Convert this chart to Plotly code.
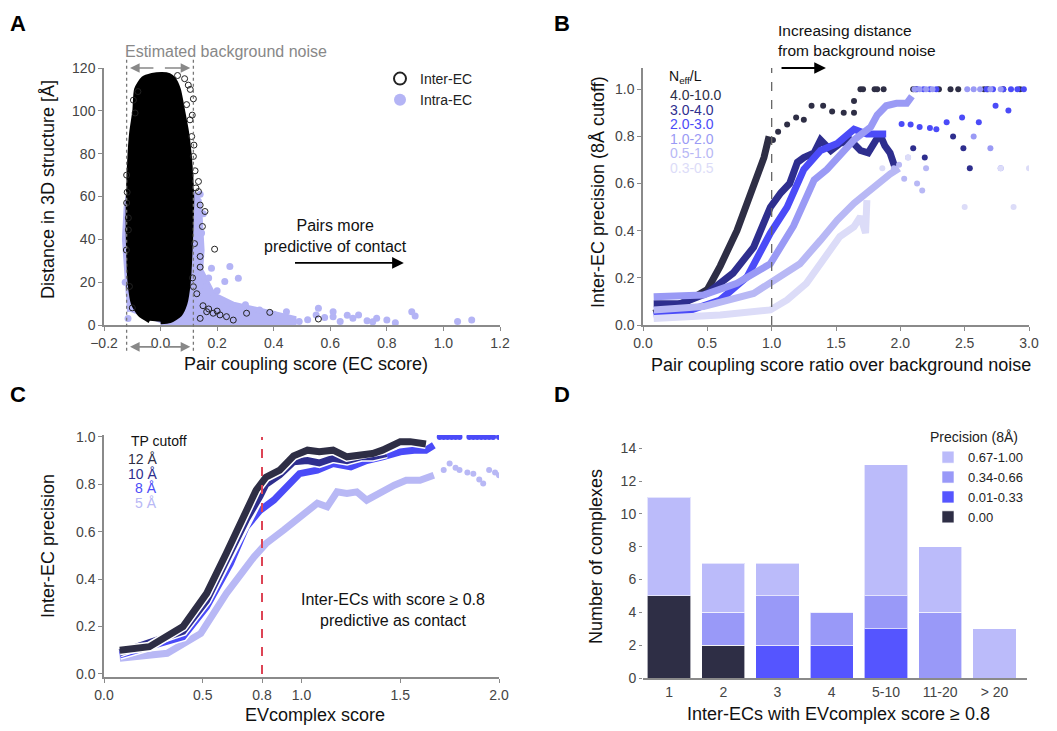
import plotly.graph_objects as go

FONT = "Liberation Sans, Arial, Helvetica, sans-serif"
PAGE_W, PAGE_H = 1057, 731
OFF = 8  # page body margin
W, H = PAGE_W - OFF, PAGE_H - OFF

# ---------------- Panel A data ----------------
# Envelope of the dense Inter-EC cloud (x, y)
blob_x = [-0.038, -0.073, -0.096, -0.108, -0.114, -0.114, -0.108, -0.102, -0.091, -0.085, -0.061, -0.030, 0.005,
          0.030, 0.045, 0.063, 0.078, 0.092, 0.101, 0.110, 0.106, 0.098, 0.086, 0.068, 0.033, 0.0]
blob_y = [2.0, 5.0, 10.0, 20.0, 40.0, 60.0, 80.0, 90.0, 100.0, 110.0, 115.0, 116.5, 117.0,
          116.5, 115.0, 110.0, 100.0, 90.0, 80.0, 60.0, 40.0, 20.0, 10.0, 5.0, 2.0, 1.5]
# Envelope of the Intra-EC cloud
intra_env_x = [-0.108, -0.12, -0.126, -0.12, -0.11, 0.0, 0.11, 0.135, 0.14, 0.145, 0.14, 0.186, 0.257, 0.375, 0.47, 0.47, 0.0]
intra_env_y = [6.2, 25.7, 40.0, 55.0, 62.0, 64.0, 62.0, 58.0, 45.0, 35.0, 25.7, 14.0, 9.5, 6.0, 3.0, 1.0, 0.8]
# Individual Inter-EC points outside the core
inter_x = [0.116, 0.092, 0.104, 0.110, 0.116, 0.134, 0.134, 0.140, 0.157, 0.148, 0.191, 0.140, 0.140, 0.116,
           0.163, 0.210, 0.257, 0.304, 0.386, 0.558, -0.120, -0.114, -0.114, -0.120, -0.096, 0.128, 0.186,
           0.140, 0.233, 0.118, 0.122, 0.125, 0.120, 0.113, -0.118, -0.121, -0.110, -0.100, 0.150, 0.170,
           0.200, 0.105, 0.112, 0.098, 0.085, 0.060, -0.080, -0.090]
inter_y = [105.6, 102.9, 95.8, 88.0, 78.7, 67.0, 62.3, 56.0, 53.0, 46.0, 35.4, 32.0, 27.0, 17.9,
           6.2, 4.7, 2.3, 5.5, 5.9, 2.8, 57.0, 50.0, 44.4, 70.0, 105.0, 14.6, 5.5,
           3.1, 3.9, 84.0, 72.0, 64.0, 38.0, 22.0, 62.0, 35.0, 18.0, 8.0, 9.0, 7.5,
           6.5, 110.0, 98.0, 112.0, 115.0, 116.5, 109.0, 99.0]
# Individual Intra-EC points in the tail
intra_x = [0.245, 0.180, 0.275, 0.227, 0.350, 0.445, 0.558, 0.610, 0.680, 0.764, 0.800, 0.830, 0.888, 0.900,
           1.050, 1.100, 0.490, 0.550, 0.635, 0.730, 0.610, 0.700, 0.140, 0.145, 0.128, 0.151, 0.520, 0.580,
           0.660, 0.750, 0.300, 0.400, 0.200, 0.170, 0.160, -0.125, -0.115]
intra_y = [27.3, 26.5, 21.8, 20.3, 7.0, 6.2, 7.8, 3.9, 3.1, 3.1, 2.3, 1.1, 6.2, 4.2,
           1.6, 2.3, 1.6, 4.7, 1.6, 2.0, 6.2, 4.7, 61.0, 43.0, 35.0, 52.0, 2.5, 3.5,
           4.5, 1.5, 9.5, 5.0, 16.0, 22.0, 18.0, 20.0, 3.0]

# ---------------- Panel B data ----------------
neff_labels = ["4.0-10.0", "3.0-4.0", "2.0-3.0", "1.0-2.0", "0.5-1.0", "0.3-0.5"]
neff_colors = ["#2e2e45", "#2e2e8e", "#4b4bf8", "#9a9af5", "#b8b8f5", "#dcdcf8"]
b_curve_x = [
    [0.083, 0.34, 0.50, 0.60, 0.73, 0.86, 0.94, 0.98],
    [0.083, 0.29, 0.50, 0.70, 0.86, 0.99, 1.07, 1.14, 1.20, 1.25, 1.33, 1.38, 1.46, 1.53, 1.61, 1.69, 1.75, 1.79, 1.84, 1.88, 1.92, 1.96],
    [0.083, 0.34, 0.60, 0.81, 0.99, 1.12, 1.25, 1.38, 1.51, 1.64, 1.74, 1.84, 1.89],
    [0.083, 0.47, 0.73, 0.99, 1.17, 1.33, 1.43, 1.53, 1.64, 1.77, 1.82, 1.89, 1.97, 2.05, 2.09],
    [0.083, 0.47, 0.86, 1.07, 1.22, 1.38, 1.51, 1.64, 1.74, 1.84, 1.92, 1.99],
    [0.083, 0.60, 0.99, 1.12, 1.27, 1.43, 1.53, 1.64, 1.69, 1.73, 1.74],
]
b_curve_y = [
    [0.05, 0.10, 0.15, 0.25, 0.40, 0.59, 0.71, 0.80],
    [0.09, 0.09, 0.135, 0.22, 0.33, 0.50, 0.56, 0.60, 0.69, 0.71, 0.73, 0.785, 0.74, 0.77, 0.785, 0.74, 0.73, 0.77, 0.81, 0.76, 0.73, 0.665],
    [0.04, 0.057, 0.106, 0.205, 0.39, 0.50, 0.66, 0.74, 0.77, 0.83, 0.81, 0.81, 0.81],
    [0.12, 0.127, 0.177, 0.26, 0.42, 0.615, 0.66, 0.715, 0.785, 0.84, 0.89, 0.93, 0.94, 0.94, 0.97],
    [0.064, 0.078, 0.134, 0.205, 0.26, 0.36, 0.445, 0.516, 0.56, 0.61, 0.64, 0.665],
    [0.028, 0.042, 0.064, 0.106, 0.177, 0.30, 0.375, 0.417, 0.46, 0.39, 0.53],
]
b_dots_x = [
    [1.01, 1.05, 1.12, 1.19, 1.25, 1.31, 1.40, 1.47, 1.56, 1.64, 1.64, 1.69, 1.71, 1.80, 1.82, 1.87, 2.10, 2.12, 2.30, 2.39, 2.45, 2.65, 2.68, 2.80, 2.93],
    [2.10, 2.19, 2.41, 2.49, 2.54],
    [2.01, 2.08, 2.15, 2.23, 2.28, 2.36, 2.48, 2.61, 2.74, 2.84, 2.13, 2.18, 2.23, 2.28, 2.67, 2.72, 2.80, 2.86, 2.91, 2.96],
    [2.11, 2.15, 2.20, 2.25, 2.52, 2.57, 2.62, 2.70, 2.78, 2.57, 2.70, 2.78],
    [2.06, 2.13, 2.17, 2.20, 1.95, 1.99, 2.03],
    [1.86, 2.06, 2.50, 2.78, 2.88, 3.00],
]
b_dots_y = [
    [0.785, 0.82, 0.85, 0.88, 0.87, 0.93, 0.93, 0.905, 0.90, 0.90, 0.95, 1.0, 1.0, 1.0, 1.0, 1.0, 1.0, 1.0, 1.0, 1.0, 1.0, 1.0, 1.0, 1.0, 1.0],
    [0.75, 0.71, 0.80, 0.75, 0.665],
    [0.853, 0.85, 0.84, 0.835, 0.83, 0.86, 0.88, 0.86, 0.93, 0.91, 1.0, 1.0, 1.0, 1.0, 1.0, 1.0, 1.0, 1.0, 1.0, 1.0],
    [1.0, 1.0, 1.0, 1.0, 1.0, 1.0, 1.0, 1.0, 1.0, 0.80, 0.75, 0.665],
    [0.71, 0.60, 0.57, 0.665, 0.665, 0.68, 0.62],
    [0.665, 0.71, 0.50, 0.665, 0.50, 0.665],
]

# ---------------- Panel C data ----------------
tp_labels = ["12 Å", "10 Å", "8 Å", "5 Å"]
tp_colors = ["#2e2e45", "#2e2e8e", "#4b4bf8", "#b8b8f5"]
c_x = [
    [0.08, 0.23, 0.40, 0.52, 0.62, 0.71, 0.77, 0.82, 0.89, 0.96, 1.03, 1.09, 1.16, 1.23, 1.30, 1.36, 1.41, 1.47, 1.50, 1.55, 1.63],
    [0.08, 0.40, 0.52, 0.62, 0.72, 0.79, 0.82, 0.89, 0.96, 1.03, 1.09, 1.16, 1.23, 1.30, 1.36, 1.43],
    [0.08, 0.40, 0.52, 0.64, 0.72, 0.79, 0.86, 0.93, 0.99, 1.08, 1.16, 1.25, 1.33, 1.41, 1.50, 1.57, 1.63, 1.67],
    [0.08, 0.32, 0.49, 0.62, 0.76, 0.82, 0.91, 0.99, 1.08, 1.13, 1.18, 1.23, 1.28, 1.33, 1.40, 1.47, 1.53, 1.60, 1.67],
]
c_y = [
    [0.10, 0.115, 0.20, 0.34, 0.51, 0.66, 0.775, 0.83, 0.86, 0.92, 0.944, 0.937, 0.944, 0.916, 0.923, 0.93, 0.944, 0.965, 0.98, 0.98, 0.97],
    [0.09, 0.18, 0.31, 0.48, 0.65, 0.75, 0.80, 0.84, 0.895, 0.90, 0.89, 0.91, 0.90, 0.916, 0.916, 0.93],
    [0.08, 0.157, 0.284, 0.466, 0.62, 0.69, 0.733, 0.79, 0.845, 0.86, 0.888, 0.874, 0.90, 0.916, 0.937, 0.944, 0.944, 0.965],
    [0.066, 0.087, 0.171, 0.34, 0.494, 0.55, 0.607, 0.663, 0.72, 0.705, 0.768, 0.761, 0.768, 0.733, 0.768, 0.796, 0.817, 0.817, 0.838],
]
c_dots_x = [
    [],
    [],
    [1.70, 1.72, 1.74, 1.76, 1.78, 1.80, 1.85, 1.87, 1.89, 1.91, 1.93, 1.95, 1.97, 2.00],
    [1.72, 1.75, 1.78, 1.80, 1.84, 1.87, 1.90, 1.92, 1.95, 1.98, 2.00],
]
c_dots_y = [
    [],
    [],
    [1.0, 1.0, 1.0, 1.0, 1.0, 1.0, 1.0, 1.0, 1.0, 1.0, 1.0, 1.0, 1.0, 1.0],
    [0.86, 0.888, 0.87, 0.86, 0.85, 0.845, 0.82, 0.803, 0.86, 0.85, 0.838],
]
c_threshold = 0.8

# ---------------- Panel D data ----------------
d_categories = ["1", "2", "3", "4", "5-10", "11-20", "> 20"]
prec_labels = ["0.00", "0.01-0.33", "0.34-0.66", "0.67-1.00"]
prec_colors = ["#2e2e45", "#5555ff", "#9999f8", "#bbbbfa"]
d_counts = [
    [5, 2, 0, 0, 0, 0, 0],
    [0, 0, 2, 2, 3, 0, 0],
    [0, 2, 3, 2, 2, 4, 0],
    [6, 3, 2, 0, 8, 4, 3],
]

# ---------------- Figure ----------------
# convert page pixel positions to paper fractions (figure is offset by the body margin)
def px2x(p):
    return (p - OFF) / W

def px2y(p):
    return 1 - (p - OFF) / H

fig = go.Figure()

# Panel A traces
fig.add_trace(go.Scatter(x=intra_env_x, y=intra_env_y, fill="toself", mode="lines",
                         line=dict(color="#b4b4f5", width=6), fillcolor="#b4b4f5",
                         showlegend=False, hoverinfo="skip", xaxis="x", yaxis="y"))
fig.add_trace(go.Scatter(x=intra_x, y=intra_y, mode="markers", name="Intra-EC",
                         marker=dict(color="#b4b4f5", size=7), xaxis="x", yaxis="y", cliponaxis=False))
fig.add_trace(go.Scatter(x=blob_x, y=blob_y, fill="toself", mode="lines",
                         line=dict(color="black", width=5, shape="spline", smoothing=0.6), fillcolor="black",
                         showlegend=False, hoverinfo="skip", xaxis="x", yaxis="y"))
fig.add_trace(go.Scatter(x=inter_x, y=inter_y, mode="markers", name="Inter-EC",
                         marker=dict(color="rgba(0,0,0,0)", size=6, line=dict(color="#222", width=1)),
                         xaxis="x", yaxis="y", cliponaxis=False))

# Panel B traces
for i in range(len(neff_labels)):
    fig.add_trace(go.Scatter(x=b_curve_x[i], y=b_curve_y[i], mode="lines",
                             line=dict(color=neff_colors[i], width=7), showlegend=False,
                             xaxis="x2", yaxis="y2"))
    fig.add_trace(go.Scatter(x=b_dots_x[i], y=b_dots_y[i], mode="markers",
                             marker=dict(color=neff_colors[i], size=6), showlegend=False,
                             xaxis="x2", yaxis="y2"))

# Panel C traces (lightest drawn first)
for i in reversed(range(len(tp_labels))):
    fig.add_trace(go.Scatter(x=c_x[i], y=c_y[i], mode="lines",
                             line=dict(color="white", width=10), showlegend=False, hoverinfo="skip",
                             xaxis="x3", yaxis="y3"))
    fig.add_trace(go.Scatter(x=c_x[i], y=c_y[i], mode="lines",
                             line=dict(color=tp_colors[i], width=7), showlegend=False,
                             xaxis="x3", yaxis="y3"))
    if c_dots_x[i]:
        fig.add_trace(go.Scatter(x=c_dots_x[i], y=c_dots_y[i], mode="markers",
                                 marker=dict(color=tp_colors[i], size=6), showlegend=False,
                                 xaxis="x3", yaxis="y3"))
fig.add_trace(go.Scatter(x=[c_threshold, c_threshold], y=[0, 1.0], mode="lines",
                         line=dict(color="#dd4455", width=2, dash="dash"), showlegend=False,
                         xaxis="x3", yaxis="y3"))

# Panel D traces
for i in range(len(prec_labels)):
    fig.add_trace(go.Bar(x=d_categories, y=d_counts[i], name=prec_labels[i],
                         marker=dict(color=prec_colors[i], line=dict(color="rgba(255,255,255,0.6)", width=1)),
                         width=0.8, xaxis="x4", yaxis="y4", legend="legend2"))

axis_common = dict(showline=True, linecolor="#8a8a8a", linewidth=1.5, ticks="outside", ticklen=4,
                   tickcolor="#8a8a8a", showgrid=False, zeroline=False, automargin=False,
                   tickfont=dict(family=FONT, size=14, color="#444"))

fig.update_layout(
    template="none",
    width=W, height=H, margin=dict(l=0, r=0, t=0, b=0),
    paper_bgcolor="white", plot_bgcolor="white", barmode="stack",
    font=dict(family=FONT, color="#111"),
    xaxis=dict(axis_common, domain=[px2x(104), px2x(500)], range=[-0.2, 1.2], dtick=0.2, tickformat=".1f"),
    yaxis=dict(axis_common, domain=[px2y(325), px2y(68)], range=[0, 120], dtick=20),
    xaxis2=dict(axis_common, anchor="y2", domain=[px2x(643), px2x(1029)], range=[0, 3.0], dtick=0.5,
                tickformat=".1f"),
    yaxis2=dict(axis_common, anchor="x2", domain=[px2y(325), px2y(68)], range=[0, 1.09],
                tickvals=[0, 0.2, 0.4, 0.6, 0.8, 1.0], tickformat=".1f"),
    xaxis3=dict(axis_common, anchor="y3", domain=[px2x(104), px2x(499)], range=[0, 2.0],
                tickvals=[0, 0.5, 0.8, 1.0, 1.5, 2.0], tickformat=".1f"),
    yaxis3=dict(axis_common, anchor="x3", domain=[px2y(677), px2y(435)], range=[-0.013, 1.008],
                tickvals=[0, 0.2, 0.4, 0.6, 0.8, 1.0], tickformat=".1f"),
    xaxis4=dict(axis_common, anchor="y4", type="category", domain=[px2x(643), px2x(1027)],
                range=[-0.48, 6.6], ticks=""),
    yaxis4=dict(axis_common, anchor="x4", domain=[px2y(678), px2y(440)], range=[0, 14.5], dtick=2,
                showline=False, ticklen=3),
    legend=dict(x=px2x(380), y=px2y(63), xanchor="left", yanchor="top", bgcolor="rgba(0,0,0,0)",
                font=dict(family=FONT, size=14, color="#222"), traceorder="reversed",
                itemsizing="constant", tracegroupgap=0, itemwidth=30),
    legend2=dict(x=px2x(928), y=px2y(424), xanchor="left", yanchor="top", bgcolor="rgba(0,0,0,0)",
                 font=dict(family=FONT, size=13, color="#222"), traceorder="reversed",
                 title=dict(text="Precision (8Å)", font=dict(family=FONT, size=14, color="#222")),
                 itemwidth=30, tracegroupgap=0),
)

shapes = []
# Panel A: dotted vertical lines marking background noise
for xv in [-0.12, 0.116]:
    shapes.append(dict(type="line", xref="x", yref="y domain", x0=xv, x1=xv, y0=-0.1, y1=1.04,
                       line=dict(color="#777", width=1.3, dash="dot")))
# Panel B: dashed line at ratio 1.0
shapes.append(dict(type="line", xref="x2", yref="y2", x0=1.0, x1=1.0, y0=0, y1=1.09,
                   line=dict(color="#666", width=1.3, dash="dash")))
fig.update_layout(shapes=shapes)

ann = []
# Panel letters
for txt, xp, yp in [("A", 18, 9), ("B", 562, 9), ("C", 18, 380), ("D", 562, 380)]:
    ann.append(dict(text=f"<b>{txt}</b>", x=px2x(xp), y=px2y(yp), xref="paper", yref="paper",
                    xanchor="center", yanchor="top", showarrow=False, font=dict(family=FONT, size=22, color="black")))
# Axis titles
TITLE_FONT = dict(family=FONT, size=18, color="#111")
for txt, xp, yp, ang in [
    ("Pair coupling score (EC score)", 306, 364, 0),
    ("Distance in 3D structure [Å]", 48, 190, -90),
    ("Pair coupling score ratio over background noise", 841, 365, 0),
    ("Inter-EC precision (8Å cutoff)", 598, 192, -90),
    ("EVcomplex score", 315, 715, 0),
    ("Inter-EC precision", 48, 546, -90),
    ("Inter-ECs with EVcomplex score ≥ 0.8", 838, 714, 0),
    ("Number of complexes", 596, 557, -90),
]:
    ann.append(dict(text=txt, x=px2x(xp), y=px2y(yp), xref="paper", yref="paper", xanchor="center",
                    yanchor="middle", textangle=ang, showarrow=False, font=TITLE_FONT))
# Panel A annotations
ann.append(dict(text="Estimated background noise", x=px2x(226), y=px2y(51), xref="paper", yref="paper",
                xanchor="center", yanchor="middle", showarrow=False, font=dict(family=FONT, size=16, color="#888")))
for ydom in [1.0, -0.085]:
    for (xs, xe) in [(-0.02, -0.108), (0.01, 0.105)]:
        ann.append(dict(x=xe, y=ydom, ax=xs, ay=ydom, xref="x", yref="y domain", axref="x", ayref="y domain",
                        text="", showarrow=True, arrowhead=2, arrowsize=1.2, arrowwidth=1.6, arrowcolor="#888"))
ann.append(dict(text="Pairs more<br>predictive of contact", x=px2x(335), y=px2y(236), xref="paper", yref="paper",
                xanchor="center", yanchor="middle",
                showarrow=False, font=dict(family=FONT, size=16, color="#111"), align="center"))
ann.append(dict(x=0.86, y=29, ax=0.47, ay=29, xref="x", yref="y", axref="x", ayref="y", text="",
                showarrow=True, arrowhead=2, arrowsize=1.3, arrowwidth=1.8, arrowcolor="black"))
# Panel B annotations
ann.append(dict(text="Increasing distance<br>from background noise", x=px2x(776), y=px2y(41), xref="paper",
                yref="paper", xanchor="left", yanchor="middle", align="left", showarrow=False,
                font=dict(family=FONT, size=15.5, color="#111")))
ann.append(dict(x=0.474, y=1.0, ax=0.355, ay=1.0, xref="x2 domain", yref="y2 domain",
                axref="x2 domain", ayref="y2 domain", text="", showarrow=True, arrowhead=2, arrowsize=1.3,
                arrowwidth=1.8, arrowcolor="black"))
ann.append(dict(text="N<sub>eff</sub>/L", x=px2x(667), y=px2y(77), xref="paper", yref="paper",
                xanchor="left", yanchor="middle", showarrow=False, font=dict(family=FONT, size=14, color="#111")))
for i, lab in enumerate(neff_labels):
    ann.append(dict(text=lab, x=px2x(668), y=px2y(95 + 14.6 * i), xref="paper", yref="paper",
                    xanchor="left", yanchor="middle", showarrow=False,
                    font=dict(family=FONT, size=14, color=neff_colors[i])))
# Panel C annotations
ann.append(dict(text="TP cutoff", x=px2x(129), y=px2y(441), xref="paper", yref="paper",
                xanchor="left", yanchor="middle", showarrow=False, font=dict(family=FONT, size=14, color="#111")))
for i, lab in enumerate(tp_labels):
    ann.append(dict(text=lab, x=px2x(159), y=px2y(459 + 14.7 * i), xref="paper", yref="paper",
                    xanchor="right", yanchor="middle", showarrow=False,
                    font=dict(family=FONT, size=14, color=tp_colors[i])))
ann.append(dict(text="Inter-ECs with score ≥ 0.8<br>predictive as contact", x=px2x(393), y=px2y(610),
                xref="paper", yref="paper", xanchor="center", yanchor="middle",
                showarrow=False, align="center", font=dict(family=FONT, size=16, color="#111")))
fig.update_layout(annotations=ann)

fig.write_html("out.html")
